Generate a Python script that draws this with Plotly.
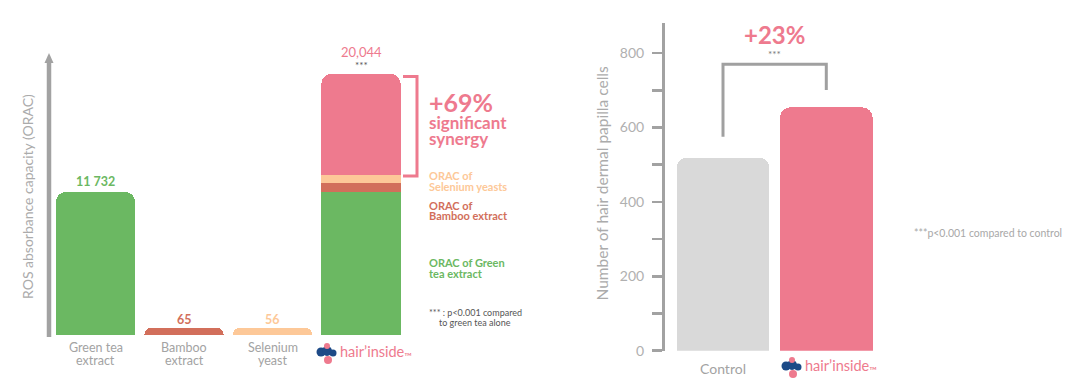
import plotly.graph_objects as go

W, H = 1080, 392

# ---------------- data: left chart (ORAC) ----------------
orac_categories = ["Green tea extract", "Bamboo extract", "Selenium yeast", "Hairinside"]
orac_value_labels = ["11 732", "65", "56", "20,044"]
# bar heights as drawn in the picture (ORAC units; small extracts drawn enlarged)
green_x = ["Green tea extract", "Hairinside"]
green_h = [11732, 11732]
bamboo_x = ["Bamboo extract", "Hairinside"]
bamboo_h = [600, 740]
selenium_x = ["Selenium yeast", "Hairinside"]
selenium_h = [600, 660]
synergy_x = ["Hairinside"]
synergy_h = [8290]
orac_tick_lines = [["Green tea", "extract"], ["Bamboo", "extract"], ["Selenium", "yeast"], None]

# ---------------- data: right chart (cells) ----------------
cell_categories = ["Control", "Hairinside"]
cell_counts = [519, 654]
cell_ticks = [0, 200, 400, 600, 800]
bracket_left_y, bracket_top_y, bracket_right_y = 575, 770, 701
stars_y, pct_y = 798, 851

PINK = "#ee7a8e"
GREEN = "#6bb862"
BAMBOO = "#d26f5b"
PEACH = "#fdc898"
GREYBAR = "#d9d9d9"
AXGREY = "#a2a2a2"
NAVY = "#1d4a87"
FONT = "Lato"


def px(x):
    return x / W


def py(y):
    return 1 - y / H


fig = go.Figure()

fig.add_trace(go.Bar(x=green_x, y=green_h, marker_color=GREEN, xaxis="x", yaxis="y", name="green"))
fig.add_trace(go.Bar(x=bamboo_x, y=bamboo_h, marker_color=BAMBOO, xaxis="x", yaxis="y", name="bamboo"))
fig.add_trace(go.Bar(x=selenium_x, y=selenium_h, marker_color=PEACH, xaxis="x", yaxis="y", name="selenium"))
fig.add_trace(go.Bar(x=synergy_x, y=synergy_h, marker_color=PINK, xaxis="x", yaxis="y", name="synergy"))

fig.add_trace(go.Bar(x=cell_categories, y=cell_counts, marker_color=[GREYBAR, PINK],
                     xaxis="x2", yaxis="y2", name="cells"))

fig.update_traces(marker_line_width=0, hoverinfo="skip")

# totals per category (drawn)
tops = {c: 0 for c in orac_categories}
for xs, hs in [(green_x, green_h), (bamboo_x, bamboo_h), (selenium_x, selenium_h), (synergy_x, synergy_h)]:
    for xv, hv in zip(xs, hs):
        tops[xv] += hv

ann = []


def A(text, x, y, size, color, bold=False, xanchor="center", yanchor="middle",
      xref="paper", yref="paper", yshift=0, angle=0, family=FONT):
    if bold:
        text = "<b>" + text + "</b>"
    ann.append(dict(text=text, x=x, y=y, xref=xref, yref=yref, xanchor=xanchor,
                    yanchor=yanchor, yshift=yshift, textangle=angle, showarrow=False,
                    font=dict(size=size, color=color, family=family)))


# value labels above left bars
A(orac_value_labels[0], orac_categories[0], tops[orac_categories[0]], 12.5, GREEN, True, xref="x", yref="y", yshift=11)
A(orac_value_labels[1], orac_categories[1], tops[orac_categories[1]], 12.5, BAMBOO, True, xref="x", yref="y", yshift=8.5)
A(orac_value_labels[2], orac_categories[2], tops[orac_categories[2]], 12.5, PEACH, True, xref="x", yref="y", yshift=8.5)
A(orac_value_labels[3], orac_categories[3], tops[orac_categories[3]], 13, PINK, False, xref="x", yref="y", yshift=22)
A("***", orac_categories[3], tops[orac_categories[3]], 10, "#555555", False, xref="x", yref="y", yshift=9)

# synergy text
A("+69%", px(427), py(102), 25, PINK, True, xanchor="left")
A("significant", px(427), py(122), 17, PINK, True, xanchor="left")
A("synergy", px(427), py(138), 17, PINK, True, xanchor="left")
A("ORAC of", px(427), py(175.5), 11, PEACH, True, xanchor="left")
A("Selenium yeasts", px(427), py(186), 11, PEACH, True, xanchor="left")
A("ORAC of", px(427), py(205.5), 11, BAMBOO, True, xanchor="left")
A("Bamboo extract", px(427), py(216), 11, BAMBOO, True, xanchor="left")
A("ORAC of Green", px(427), py(262.5), 11, GREEN, True, xanchor="left")
A("tea extract", px(427), py(273), 11, GREEN, True, xanchor="left")
A("*** : p<0.001 compared", px(427), py(312.5), 9, "#555555", False, xanchor="left")
A("to green tea alone", px(437), py(322.5), 9, "#555555", False, xanchor="left")

# left x labels
for cat, lines in zip(orac_categories, orac_tick_lines):
    if lines is None:
        continue
    A(lines[0], cat, py(347.5), 12.5, "#a3a3a3", xref="x")
    A(lines[1], cat, py(360.5), 12.5, "#a3a3a3", xref="x")

# left y title
A("ROS absorbance capacity (ORAC)", px(27.5), py(196.5), 14, "#ababab", angle=-90)

shapes = []


def circle(cx, cy, r, color):
    shapes.append(dict(type="circle", xref="paper", yref="paper",
                       x0=px(cx - r), x1=px(cx + r), y0=py(cy + r), y1=py(cy - r),
                       fillcolor=color, line=dict(width=0)))


# hairinside logos: blobs as shapes, wordmark as text
def logo(x0, yc):
    circle(x0 + 5, yc, 4.5, NAVY)
    circle(x0 + 11, yc - 1, 5, NAVY)
    circle(x0 + 17, yc + 1, 3.5, NAVY)
    circle(x0 + 11, yc - 6, 3, PINK)
    circle(x0 + 12, yc + 8, 4, PINK)
    A("hair’inside<sub>™</sub>", px(x0 + 22), py(yc), 14.5, PINK, xanchor="left")


logo(316, 352)
logo(781, 366)

# right chart labels
A("Control", cell_categories[0], py(368.5), 14, "#a3a3a3", xref="x2")
A("***", 0.5, stars_y, 10, "#777777", xref="x2", yref="y2")
A("+23%", 0.5, pct_y, 24, PINK, True, xref="x2", yref="y2")
A("Number of hair dermal papilla cells", px(601.5), py(184), 15.5, "#ababab", angle=-90)
A("***p<0.001 compared to control", px(912), py(233), 10.5, "#a8a8a8", xanchor="left")

shapes += [
    # left vertical arrow
    dict(type="line", xref="paper", yref="paper", x0=px(49), x1=px(49), y0=py(337), y1=py(60),
         line=dict(color=AXGREY, width=4.5)),
    dict(type="path", xref="paper", yref="paper",
         path=f"M {px(44.5)},{py(63)} L {px(49)},{py(53)} L {px(53.5)},{py(63)} Z",
         fillcolor=AXGREY, line=dict(width=0)),
    # synergy bracket
    dict(type="path", xref="paper", yref="paper",
         path=f"M {px(403)},{py(76.5)} L {px(417)},{py(76.5)} L {px(417)},{py(176)} L {px(403)},{py(176)}",
         line=dict(color=PINK, width=3)),
    # significance bracket on right chart
    dict(type="path", xref="x2", yref="y2",
         path=f"M 0,{bracket_left_y} L 0,{bracket_top_y} L 1,{bracket_top_y} L 1,{bracket_right_y}",
         line=dict(color="#a0a0a0", width=3)),
]

fig.update_layout(
    template="none",
    width=W, height=H, autosize=False,
    margin=dict(l=0, r=0, t=0, b=0, pad=0, autoexpand=False),
    paper_bgcolor="white", plot_bgcolor="white",
    barmode="stack", bargap=0.105, barcornerradius=10,
    showlegend=False,
    font=dict(family=FONT),
    annotations=ann, shapes=shapes,
    xaxis=dict(domain=[px(51.25), px(405.25)], type="category", automargin=False,
               categoryorder="array", categoryarray=orac_categories,
               range=[-0.5, 3.5], showticklabels=False, showline=False,
               showgrid=False, zeroline=False, ticks=""),
    yaxis=dict(domain=[py(335), py(39.2)], range=[0, 24268], visible=False, automargin=False),
    xaxis2=dict(domain=[px(671.35), px(877.95)], type="category", automargin=False,
                categoryorder="array", categoryarray=cell_categories,
                range=[-0.5, 1.5], showticklabels=False, showline=False,
                showgrid=False, zeroline=False, ticks="", anchor="y2"),
    yaxis2=dict(domain=[py(350.7), py(23.3)], range=[0, 880], anchor="free", automargin=False,
                position=px(663), showline=True, linecolor=AXGREY, linewidth=3,
                showgrid=False, zeroline=False, tickvals=cell_ticks,
                ticks="outside", ticklen=10, tickwidth=2.5, tickcolor=AXGREY,
                ticklabelstandoff=5,
                tickfont=dict(size=14, color="#b0b0b0", family=FONT),
                minor=dict(dtick=100, ticks="outside", ticklen=10, tickwidth=2.5,
                           tickcolor=AXGREY, showgrid=False)),
)

page_fix = (
    "var de=document.documentElement, b=document.body;"
    "de.style.margin='0';de.style.padding='0';de.style.overflow='hidden';"
    "b.style.margin='0';b.style.padding='0';b.style.overflow='hidden';"
)
fig.write_html("out.html", config={"staticPlot": True}, post_script=page_fix)
